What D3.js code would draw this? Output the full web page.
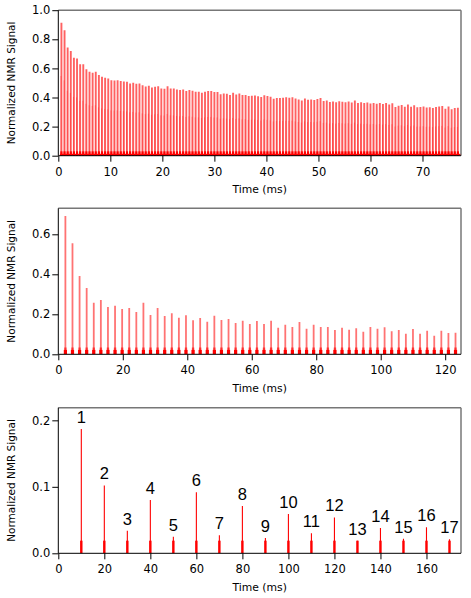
<!DOCTYPE html>
<html><head><meta charset="utf-8">
<script src="https://cdn.jsdelivr.net/npm/d3@7"></script>
<style>
html,body{margin:0;padding:0;background:#fff;}
svg text{font-family:"DejaVu Sans",Verdana,sans-serif;fill:#000;}
</style></head>
<body>
<svg id="chart" width="471" height="598"></svg>
<script>
// ---- Data ----
// Panel 1: echo train, echo spacing 0.6 ms
const echoSpacing1 = 0.6;
const heights1 = [
  0.913,0.863,0.744,0.719,0.673,0.668,0.629,0.629,0.595,0.577,
  0.570,0.577,0.554,0.542,0.535,0.531,0.519,0.517,0.519,0.513,
  0.510,0.508,0.497,0.501,0.494,0.497,0.485,0.476,0.481,0.469,
  0.474,0.478,0.462,0.460,0.478,0.462,0.462,0.455,0.451,0.455,
  0.444,0.451,0.446,0.439,0.439,0.432,0.439,0.444,0.444,
  0.437,0.438,0.423,0.428,0.425,0.418,0.432,0.421,0.427,0.417,
  0.418,0.410,0.412,0.414,0.409,0.403,0.415,0.411,0.405,0.392,
  0.397,0.396,0.399,0.401,0.399,0.401,0.393,0.386,0.379,0.393,
  0.385,0.386,0.383,0.389,0.396,0.376,0.379,0.369,0.373,0.367,
  0.375,0.371,0.368,0.372,0.365,0.379,0.362,0.367,0.362,0.366,
  0.359,0.363,0.357,0.363,0.356,0.362,0.352,0.361,0.334,0.344,
  0.348,0.337,0.352,0.337,0.346,0.333,0.334,0.338,0.331,0.333,
  0.328,0.335,0.338,0.341,0.322,0.339,0.320,0.327,0.330
];
// Panel 2: echo train, echo spacing 2.2 ms
const echoSpacing2 = 2.2;
const heights2 = [
  0.692,0.555,0.392,0.332,0.258,0.272,0.237,0.243,0.227,0.232,
  0.212,0.258,0.197,0.232,0.192,0.205,0.183,0.195,0.170,0.182,
  0.163,0.193,0.172,0.177,0.157,0.168,0.152,0.167,0.152,0.168,
  0.133,0.148,0.137,0.162,0.128,0.148,0.137,0.137,0.122,0.133,
  0.123,0.130,0.113,0.137,0.128,0.135,0.115,0.122,0.103,0.127,
  0.103,0.118,0.093,0.118,0.107,0.108
];
// Panel 3: numbered echoes
const times3 = [10,20,30,40,50,60,70,80,90,100,110,120,130,140,150,160,170];
const heights3 = [0.187,0.102,0.034,0.080,0.025,0.092,0.027,0.071,0.023,0.059,0.030,0.054,0.019,0.038,0.022,0.039,0.021];
const labels3 = ["1","2","3","4","5","6","7","8","9","10","11","12","13","14","15","16","17"];

const xTicks1 = [0,10,20,30,40,50,60,70];
const yTicks1 = [0,0.2,0.4,0.6,0.8,1.0];
const xTicks2 = [0,20,40,60,80,100,120];
const yTicks2 = [0,0.2,0.4,0.6];
const xTicks3 = [0,20,40,60,80,100,120,140,160];
const yTicks3 = [0,0.1,0.2];

const xLabel = "Time (ms)";
const yLabel = "Normalized NMR Signal";

// ---- Layout ----
const svg = d3.select("#chart");
const left = 58.3, right = 461;

const panels = [
  {top:10.2, bottom:155.7, xMax:77.4, yMax:1.0, xTicks:xTicks1, yTicks:yTicks1},
  {top:208.3, bottom:354.3, xMax:124.9, yMax:0.73, xTicks:xTicks2, yTicks:yTicks2},
  {top:407.7, bottom:553.3, xMax:175, yMax:0.219, xTicks:xTicks3, yTicks:yTicks3}
];

panels.forEach((p,i) => {
  p.x = d3.scaleLinear().domain([0,p.xMax]).range([left,right]);
  p.y = d3.scaleLinear().domain([0,p.yMax]).range([p.bottom,p.top]);
  const g = svg.append("g");
  p.g = g;
  const clipId = "clip"+i;
  svg.append("clipPath").attr("id",clipId).append("rect")
    .attr("x",left).attr("y",p.top).attr("width",right-left).attr("height",p.bottom-p.top);
  p.marks = g.append("g").attr("clip-path",`url(#${clipId})`);
});

// Panel 1 marks
{
  const p = panels[0];
  const t = heights1.map((h,i)=>(i+1)*echoSpacing1);
  p.marks.append("rect")
    .attr("x",p.x(0.3)).attr("width",p.x(77.4)-p.x(0.3))
    .attr("y",p.y(0.013)).attr("height",p.y(0)-p.y(0.013))
    .attr("fill","#ff0000");
  p.marks.selectAll("line.spk").data(heights1).join("line")
    .attr("x1",(d,i)=>p.x(t[i])).attr("x2",(d,i)=>p.x(t[i]))
    .attr("y1",p.y(0)).attr("y2",d=>p.y(d))
    .attr("stroke","#ff0000").attr("stroke-opacity",0.62).attr("stroke-width",1.9);
  p.marks.selectAll("line.core").data(heights1).join("line")
    .attr("x1",(d,i)=>p.x(t[i])-0.5).attr("x2",(d,i)=>p.x(t[i])-0.5)
    .attr("y1",p.y(0)).attr("y2",d=>p.y(d*0.6))
    .attr("stroke","#ff0000").attr("stroke-opacity",0.35).attr("stroke-width",0.8);
  p.marks.selectAll("rect.base").data(heights1).join("rect")
    .attr("x",(d,i)=>p.x(t[i])-1.1).attr("width",2.2)
    .attr("y",p.y(0.03)).attr("height",p.y(0)-p.y(0.03))
    .attr("fill","#ff0000");
}
// Panel 2 marks
{
  const p = panels[1];
  const t = heights2.map((h,i)=>(i+1)*echoSpacing2);
  p.marks.selectAll("line.spk").data(heights2).join("line")
    .attr("x1",(d,i)=>p.x(t[i])).attr("x2",(d,i)=>p.x(t[i]))
    .attr("y1",p.y(0)).attr("y2",d=>p.y(d))
    .attr("stroke","#ff0000").attr("stroke-opacity",0.55).attr("stroke-width",1.8);
  p.marks.selectAll("rect.ext").data(heights2).join("rect")
    .attr("x",(d,i)=>p.x(t[i])-1.2).attr("width",2.4)
    .attr("y",p.y(0.034)).attr("height",p.y(0)-p.y(0.034))
    .attr("fill","#ff0000").attr("fill-opacity",0.6);
  p.marks.selectAll("rect.base").data(heights2).join("rect")
    .attr("x",(d,i)=>p.x(t[i])-1.6).attr("width",3.2)
    .attr("y",p.y(0.022)).attr("height",p.y(0)-p.y(0.022))
    .attr("fill","#ff0000");
}
// Panel 3 marks
{
  const p = panels[2];
  p.marks.selectAll("line.spk").data(heights3).join("line")
    .attr("x1",(d,i)=>p.x(times3[i])).attr("x2",(d,i)=>p.x(times3[i]))
    .attr("y1",p.y(0)).attr("y2",d=>p.y(d))
    .attr("stroke","#ff0000").attr("stroke-width",1.1);
  p.marks.selectAll("rect.base").data(heights3).join("rect")
    .attr("x",(d,i)=>p.x(times3[i])-1.2).attr("width",2.4)
    .attr("y",p.y(0.019)).attr("height",p.y(0)-p.y(0.019))
    .attr("fill","#ff0000");
  p.g.selectAll("text.lbl").data(labels3).join("text")
    .attr("x",(d,i)=>p.x(times3[i])).attr("y",(d,i)=>p.y(heights3[i])-6)
    .attr("text-anchor","middle")
    .style("font-family","'Liberation Sans',Arial,sans-serif")
    .style("font-size","16.5px")
    .text(d=>d);
}

// Axes, frames, titles
panels.forEach(p => {
  const g = p.g;
  g.append("line").attr("x1",left).attr("x2",right).attr("y1",p.top).attr("y2",p.top)
    .attr("stroke","#777").attr("stroke-width",1.5);
  g.append("line").attr("x1",right).attr("x2",right).attr("y1",p.top).attr("y2",p.bottom)
    .attr("stroke","#777").attr("stroke-width",1.5);
  const ax = g.append("g").attr("transform",`translate(0,${p.bottom})`)
    .call(d3.axisBottom(p.x).tickValues(p.xTicks).tickFormat(d3.format("d")).tickSize(6).tickSizeOuter(0).tickPadding(6));
  const ay = g.append("g").attr("transform",`translate(${left},0)`)
    .call(d3.axisLeft(p.y).tickValues(p.yTicks).tickFormat(d3.format(".1f")).tickSize(6).tickSizeOuter(0).tickPadding(2));
  [ax,ay].forEach(a => {
    a.select(".domain").remove();
    a.selectAll("line").attr("stroke","#000").attr("stroke-width",1);
    a.selectAll("text").style("font-family","'DejaVu Sans',Verdana,sans-serif").style("font-size","11.5px").attr("fill","#000");
  });
  g.append("line").attr("x1",left).attr("x2",right).attr("y1",p.bottom).attr("y2",p.bottom)
    .attr("stroke","#000").attr("stroke-width",1);
  g.append("line").attr("x1",left).attr("x2",left).attr("y1",p.top).attr("y2",p.bottom)
    .attr("stroke","#000").attr("stroke-width",1);
  g.append("text").attr("x",(left+right)/2).attr("y",p.bottom+37.3)
    .attr("text-anchor","middle").style("font-size","10.8px").text(xLabel);
  g.append("text")
    .attr("transform",`translate(15,${(p.top+p.bottom)/2}) rotate(-90)`)
    .attr("text-anchor","middle").style("font-size","10.5px").text(yLabel);
});
</script>
</body></html>
